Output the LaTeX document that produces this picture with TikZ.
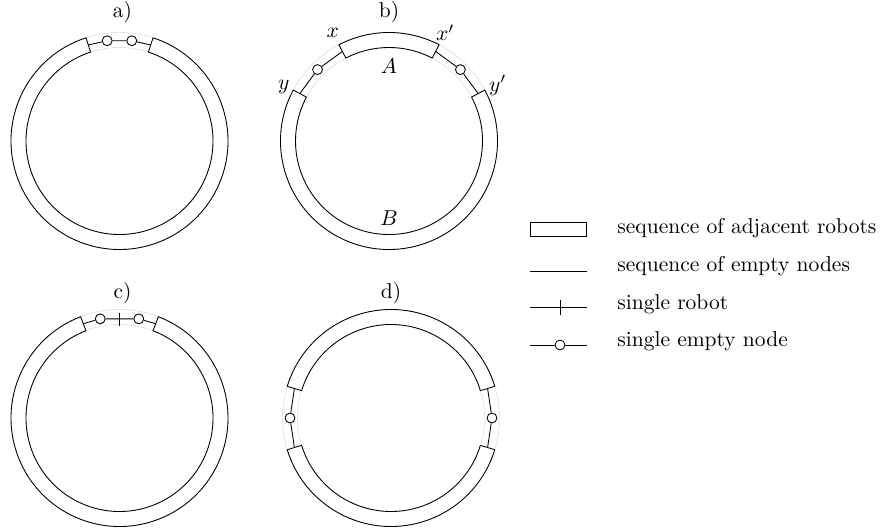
\documentclass[tikz,border=0pt]{standalone}
\usepackage{amsmath,amssymb}
\usepackage{tikz}

\newcommand{\robotband}[2]{%
  \draw (#1:108.5) arc[start angle=#1,end angle=#2,radius=108.5]
    -- (#2:93.5) arc[start angle=#2,end angle=#1,radius=93.5] -- cycle;}
\newcommand{\guidering}{%
  \draw[guide] (0,0) circle[radius=108.5] (0,0) circle[radius=93.5];}

\begin{document}
\begin{tikzpicture}[x=0.465pt,y=0.465pt,
    guide/.style={gray!35,very thin},
    hole/.style={circle,draw,fill=white,inner sep=0pt,minimum size=4.6pt},
    lbl/.style={inner sep=0pt}]
  \useasboundingbox (0,0) rectangle (880,-531);

  % a)
  \begin{scope}[shift={(119.5,-141)}]
    \guidering
    \robotband{108}{432}
    \coordinate (a-l) at (108:101);
    \coordinate (a-r) at (72:101);
    \node[hole] (a-e1) at (97:101) {};
    \node[hole] (a-e2) at (83:101) {};
    \draw (a-l) -- (a-e1) -- (a-e2) -- (a-r);
    \node (a-lbl) at (3,129) {a)};
  \end{scope}

  % b)
  \begin{scope}[shift={(389,-141)}]
    \guidering
    \robotband{62.5}{117.5}
    \robotband{152}{388}
    \coordinate (b-al) at (117.5:101);
    \coordinate (b-ar) at (62.5:101);
    \coordinate (b-bl) at (152:101);
    \coordinate (b-br) at (28:101);
    \node[hole] (b-e1) at (135:101) {};
    \node[hole] (b-e2) at (45:101) {};
    \draw (b-al) -- (b-e1) -- (b-bl);
    \draw (b-ar) -- (b-e2) -- (b-br);
    \node (b-lbl) at (0,129) {b)};
    \node (b-x) at (117.5:122) {$x$};
    \node (b-xp) at (62.5:122) {$x'$};
    \node (b-y) at (153:118) {$y$};
    \node (b-yp) at (27:122) {$y'$};
    \node (b-A) at (0,75) {$A$};
    \node (b-B) at (0,-77) {$B$};
  \end{scope}

  % c)
  \begin{scope}[shift={(119.5,-418)}]
    \guidering
    \robotband{111}{429}
    \coordinate (c-l) at (111:101);
    \coordinate (c-r) at (69:101);
    \node[hole] (c-e1) at (101:101) {};
    \node[hole] (c-e2) at (79:101) {};
    \draw (c-l) -- (c-e1) -- (c-e2) -- (c-r);
    \draw (90:92.5) -- (90:105.5);
    \node (c-lbl) at (3,125) {c)};
  \end{scope}

  % d)
  \begin{scope}[shift={(391,-418)}]
    \guidering
    \robotband{17}{163}
    \robotband{197}{343}
    \coordinate (d-tl) at (163:101);
    \coordinate (d-bl) at (197:101);
    \coordinate (d-tr) at (17:101);
    \coordinate (d-br) at (-17:101);
    \node[hole] (d-e1) at (180:101) {};
    \node[hole] (d-e2) at (0:101) {};
    \draw (d-tl) -- (d-e1) -- (d-bl);
    \draw (d-tr) -- (d-e2) -- (d-br);
    \node (d-lbl) at (0,125) {d)};
  \end{scope}

  % legend
  \draw (530,-222.7) rectangle (586.7,-236);
  \draw (530,-271) -- (587,-271);
  \draw (530,-307.7) -- (587,-307.7) (560,-300.2) -- (560,-315.2);
  \node[hole] (lg-hole) at (560,-345) {};
  \draw (530,-345) -- (lg-hole) -- (587,-345);
  \node[lbl,anchor=base west] (lg-1) at (617,-234) {sequence of adjacent robots};
  \node[lbl,anchor=base west] (lg-2) at (617,-272) {sequence of empty nodes};
  \node[lbl,anchor=base west] (lg-3) at (617,-309.5) {single robot};
  \node[lbl,anchor=base west] (lg-4) at (617,-346.5) {single empty node};
\end{tikzpicture}
\end{document}
